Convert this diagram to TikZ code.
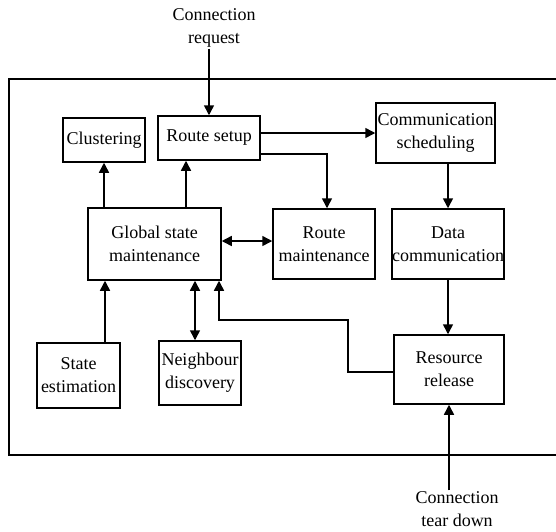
\documentclass[tikz,border=0pt]{standalone}
\usepackage{fontspec}
\setmainfont{Liberation Serif}
\usetikzlibrary{arrows.meta,positioning}

\tikzset{
  blk/.style={draw, line width=1.5pt, inner sep=0pt, align=center, minimum width=#1},
  lbl/.style={align=center, inner sep=1pt},
  arr/.style={line width=1.5pt, -{Triangle[length=10pt,width=10pt]}},
  darr/.style={line width=1.5pt, {Triangle[length=10pt,width=10pt]}-{Triangle[length=10pt,width=10pt]}}
}

\begin{document}
\begin{tikzpicture}[x=1pt,y=-1pt,font=\fontsize{18}{23}\selectfont]
  \useasboundingbox (0,0) rectangle (556,531);
  \draw [line width=1.5pt] (9,79) rectangle (575,455);

  \node [blk=82pt, minimum height=44pt] (clu) at (104,140) {Clustering};
  \node [blk=102pt, minimum height=44pt] (rsetup) at (209,138) {Route setup};
  \node [blk=119pt, minimum height=60pt] (csched) at (435.5,133) {Communication\\scheduling};
  \node [blk=133pt, minimum height=72pt] (gsm) at (154.5,244) {Global state\\maintenance};
  \node [blk=102pt, minimum height=70pt] (rmaint) at (324,244) {Route\\maintenance};
  \node [blk=112pt, minimum height=70pt] (dcomm) at (448,244) {Data\\communication};
  \node [blk=83pt, minimum height=65pt] (sest) at (78.5,375.5) {State\\estimation};
  \node [blk=82pt, minimum height=64pt] (ndisc) at (200,373) {Neighbour\\discovery};
  \node [blk=110pt, minimum height=69pt] (rrel) at (449,369.5) {Resource\\release};

  \node [lbl] (creq) at (214,28) {Connection\\request};
  \node [lbl] (ctear) at (457,509) {Connection\\tear down};

  \coordinate (rs-in) at ([xshift=-23pt]rsetup.south);
  \coordinate (se-out) at ([xshift=26.5pt]sest.north);
  \coordinate (nd-io) at ([xshift=-5pt]ndisc.north);
  \coordinate (gs-in) at ([xshift=64.5pt]gsm.south);
  \coordinate (fb) at (348,320);

  \draw [arr] (creq.south -| rsetup) -- (rsetup.north);
  \draw [arr] (rsetup.east |- csched) -- (csched.west);
  \draw [arr] ([yshift=-16pt]rsetup.east) -| ([xshift=3pt]rmaint.north);
  \draw [arr] (csched.south -| dcomm) -- (dcomm.north);
  \draw [arr] (dcomm.south) -- (dcomm.south |- rrel.north);
  \draw [darr] ([yshift=3pt]gsm.east) -- ([yshift=3pt]rmaint.west);
  \draw [arr] (clu |- gsm.north) -- (clu.south);
  \draw [arr] (rs-in |- gsm.north) -- (rs-in);
  \draw [arr] (se-out) -- (se-out |- gsm.south);
  \draw [darr] (nd-io) -- (nd-io |- gsm.south);
  \draw [arr] ([yshift=-2.5pt]rrel.west) -| (fb) -| (gs-in);
  \draw [arr] (ctear.north -| rrel) -- (rrel.south);
\end{tikzpicture}
\end{document}
